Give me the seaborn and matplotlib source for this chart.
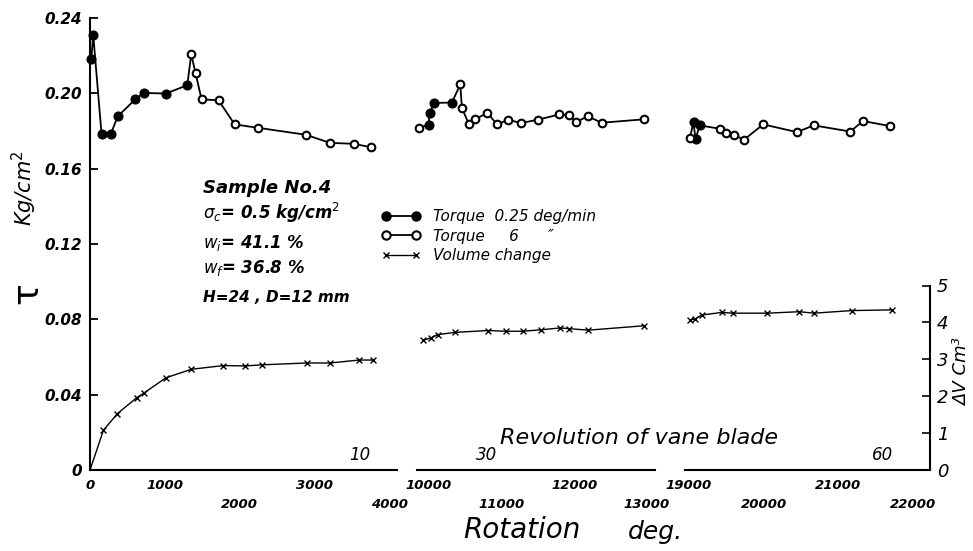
import numpy as np
import pandas as pd
import matplotlib
matplotlib.use("Agg")
import matplotlib.pyplot as plt
import seaborn as sns
from matplotlib.lines import Line2D

# ---------------- data ----------------
# Torque, panel 1 (rotation in deg, tau in kg/cm2), filled = 0.25 deg/min
p1_deg = [17, 43, 154, 278, 371, 604, 720, 1013, 1299,
          1352, 1410, 1490, 1717, 1932, 2243, 2885, 3202, 3523, 3748]
p1_tau = [0.218, 0.231, 0.1785, 0.1785, 0.1878, 0.1968, 0.2002, 0.1999, 0.2043,
          0.2207, 0.2106, 0.1968, 0.1963, 0.1835, 0.1817, 0.178, 0.1737, 0.1732, 0.1714]
p1_filled = [1, 1, 1, 1, 1, 1, 1, 1, 1, 0, 0, 0, 0, 0, 0, 0, 0, 0, 0]

p2_deg = [9871, 9999, 10013, 10077, 10320, 10434, 10457, 10548, 10640, 10808,
          10937, 11096, 11266, 11500, 11796, 11933, 12025, 12185, 12377, 12962]
p2_tau = [0.1817, 0.1833, 0.1897, 0.1949, 0.1951, 0.2047, 0.1924, 0.1839, 0.1862, 0.1897,
          0.1835, 0.186, 0.1842, 0.186, 0.1888, 0.1883, 0.1847, 0.1878, 0.1844, 0.1862]
p2_filled = [0, 1, 1, 1, 1, 0, 0, 0, 0, 0, 0, 0, 0, 0, 0, 0, 0, 0, 0, 0]

p3_deg = [19011, 19060, 19087, 19141, 19413, 19502, 19600, 19734,
          19994, 20449, 20671, 21162, 21332, 21698]
p3_tau = [0.1764, 0.1846, 0.1755, 0.183, 0.1812, 0.1788, 0.1781, 0.1753,
          0.1835, 0.1794, 0.183, 0.1797, 0.1853, 0.1826]
p3_filled = [0, 1, 1, 1, 0, 0, 0, 0, 0, 0, 0, 0, 0, 0]

# Volume change (cm3)
dv1_deg = [0, 180, 367, 625, 724, 1015, 1355, 1782, 2072, 2294, 2895, 3207, 3594, 3776]
dv1_val = [0, 1.08, 1.53, 1.96, 2.09, 2.50, 2.73, 2.83, 2.82, 2.85, 2.90, 2.90, 2.98, 2.98]
dv2_deg = [9919, 10033, 10125, 10368, 10815, 11062, 11291, 11548, 11808, 11932, 12196, 12965]
dv2_val = [3.51, 3.58, 3.67, 3.73, 3.78, 3.76, 3.76, 3.80, 3.85, 3.83, 3.79, 3.91]
dv3_deg = [19014, 19081, 19170, 19438, 19593, 20048, 20477, 20674, 21178, 21727]
dv3_val = [4.07, 4.09, 4.20, 4.27, 4.25, 4.25, 4.29, 4.25, 4.32, 4.34]

tau_ticks = [0, 0.04, 0.08, 0.12, 0.16, 0.20, 0.24]
tau_labels = ["0", "0.04", "0.08", "0.12", "0.16", "0.20", "0.24"]
dv_ticks = [0, 1, 2, 3, 4, 5]
dv_labels = ["0", "1", "2", "3", "4", "5"]

deg_labels_1 = [(0, 0), (1000, 0), (2000, 1), (3000, 0), (4000, 1)]
deg_labels_2 = [(10000, 0), (11000, 1), (12000, 0), (13000, 1)]
deg_labels_3 = [(19000, 0), (20000, 1), (21000, 0), (22000, 1)]
rev_labels = [(3600, "10", 0), (10800, "30", 1), (21600, "60", 2)]

legend_labels = ["Torque  0.25 deg/min", "Torque     6      \u2033", "Volume change"]

# ---------------- style ----------------
sns.set_style("white")
plt.rcParams['font.family'] = ['DejaVu Sans']
plt.rcParams['mathtext.fontset'] = 'dejavusans'
for key in ["text.color", "axes.labelcolor", "xtick.color", "ytick.color", "axes.edgecolor"]:
    plt.rcParams[key] = "black"

W, H = 973, 551
fig = plt.figure(figsize=(W / 100, H / 100), dpi=100)

Y_TOP, Y_BOT = 18, 470
def rect(x0, x1):
    return [x0 / W, 1 - Y_BOT / H, (x1 - x0) / W, (Y_BOT - Y_TOP) / H]

TAU_MAX = 0.24
DV_MAX = (Y_BOT - Y_TOP) / 36.9

panels = [
    dict(x0=90, x1=397, xlim=(0, 4100), revs=range(0, 12),
         tdeg=p1_deg, ttau=p1_tau, tf=p1_filled, vdeg=dv1_deg, vval=dv1_val, vskip=1,
         labels=deg_labels_1),
    dict(x0=417, x1=655, xlim=(9840, 13110), revs=range(28, 37),
         tdeg=p2_deg, ttau=p2_tau, tf=p2_filled, vdeg=dv2_deg, vval=dv2_val, vskip=0,
         labels=deg_labels_2),
    dict(x0=685, x1=930, xlim=(18946, 22230), revs=range(53, 62),
         tdeg=p3_deg, ttau=p3_tau, tf=p3_filled, vdeg=dv3_deg, vval=dv3_val, vskip=0,
         labels=deg_labels_3),
]

axes = []
for i, p in enumerate(panels):
    ax = fig.add_axes(rect(p["x0"], p["x1"]))
    ax.set_facecolor("none")
    ax.set_xlim(*p["xlim"])
    ax.set_ylim(0, TAU_MAX)
    for s in ["top", "right"]:
        ax.spines[s].set_visible(False)
    ax.spines["bottom"].set_linewidth(1.5)
    ax.spines["bottom"].set_color("black")
    if i == 0:
        ax.spines["left"].set_linewidth(1.5)
        ax.spines["left"].set_color("black")
        ax.set_yticks(tau_ticks)
        ax.set_yticklabels(tau_labels, fontsize=11, fontweight="bold", fontstyle="italic")
        ax.tick_params(axis="y", direction="in", length=6, width=1.3, pad=6)
    else:
        ax.spines["left"].set_visible(False)
        ax.set_yticks([])
    ax.set_xticks([r * 360 for r in p["revs"]])
    ax.set_xticklabels([])
    ax.tick_params(axis="x", direction="in", length=6, width=1.1)

    # torque line + markers
    df = pd.DataFrame({"deg": p["tdeg"], "tau": p["ttau"], "filled": p["tf"]})
    sns.lineplot(data=df, x="deg", y="tau", ax=ax, color="black", linewidth=1.3,
                 estimator=None, sort=True, legend=False, clip_on=False)
    sns.scatterplot(data=df[df.filled == 1], x="deg", y="tau", ax=ax, color="black",
                    s=42, edgecolor="black", linewidth=0.8, zorder=4, legend=False,
                    clip_on=False)
    sns.scatterplot(data=df[df.filled == 0], x="deg", y="tau", ax=ax, color="white",
                    s=30, edgecolor="black", linewidth=1.5, zorder=4, legend=False,
                    clip_on=False)
    ax.set_xlabel("")
    ax.set_ylabel("")

    # volume change on twin axis
    tw = ax.twinx()
    tw.set_ylim(0, DV_MAX)
    tw.set_xlim(*p["xlim"])
    for s in ["top", "left", "bottom", "right"]:
        tw.spines[s].set_visible(False)
    dv = pd.DataFrame({"deg": p["vdeg"], "dv": p["vval"]})
    sns.lineplot(data=dv, x="deg", y="dv", ax=tw, color="black", linewidth=1.0,
                 estimator=None, sort=True, legend=False, clip_on=False)
    sns.scatterplot(data=dv.iloc[p["vskip"]:], x="deg", y="dv", ax=tw, marker="x",
                    color="black", s=18, linewidth=1.0, legend=False, clip_on=False)
    tw.set_xlabel("")
    tw.set_ylabel("")
    if i == 2:
        tw.spines["right"].set_visible(True)
        tw.spines["right"].set_bounds(0, 5)
        tw.spines["right"].set_linewidth(1.5)
        tw.spines["right"].set_color("black")
        tw.set_yticks(dv_ticks)
        tw.set_yticklabels(dv_labels, fontsize=13, fontstyle="italic")
        tw.tick_params(axis="y", direction="in", length=6, width=1.2, pad=5)
    else:
        tw.set_yticks([])

    # degree labels in two rows
    for d, row in p["labels"]:
        ax.text(d, -0.034 - 0.042 * row, f"{d}", transform=ax.get_xaxis_transform(),
                ha="center", va="center", fontsize=9.5, fontweight="bold",
                fontstyle="italic")
    axes.append(ax)

# revolution labels
for d, txt, k in rev_labels:
    axx = axes[k]
    axx.text(d, 0.034, txt, transform=axx.get_xaxis_transform(), ha="center",
             va="center", fontsize=12, fontstyle="italic")

# axis titles
fig.text(27 / W, 1 - 293 / H, "\u03c4", rotation=90, fontsize=26, ha="center", va="center")
fig.text(24 / W, 1 - 188 / H, "Kg/cm$^2$", rotation=90, fontsize=15, fontstyle="italic",
         ha="center", va="center")
fig.text(962 / W, 1 - 372 / H, "\u0394V Cm\u00b3", rotation=90, fontsize=13,
         fontstyle="italic", ha="center", va="center")
fig.text(500 / W, 1 - 438 / H, "Revolution of vane blade", fontsize=16,
         fontstyle="italic", ha="left", va="center")
fig.text(463 / W, 1 - 530 / H, "Rotation", fontsize=20, fontstyle="italic",
         ha="left", va="center")
fig.text(628 / W, 1 - 532 / H, "deg.", fontsize=18, fontstyle="italic",
         ha="left", va="center")

# sample annotation block
info = [("Sample No.4", 188, 13),
        (r"$\sigma_c$= 0.5 kg/cm$^2$", 213, 12),
        (r"$w_i$= 41.1 %", 243, 12),
        (r"$w_f$= 36.8 %", 268, 12),
        ("H=24 , D=12 mm", 297, 11)]
for txt, y, fs in info:
    fig.text(203 / W, 1 - y / H, txt, fontsize=fs, fontstyle="italic", fontweight="bold",
             ha="left", va="center")

# legend
handles = [
    Line2D([0], [0], color="black", lw=1.3, marker="o", markersize=6.5,
           markerfacecolor="black", markeredgecolor="black"),
    Line2D([0], [0], color="black", lw=1.3, marker="o", markersize=6,
           markerfacecolor="white", markeredgecolor="black", markeredgewidth=1.5),
    Line2D([0], [0], color="black", lw=1.0, marker="x", markersize=5,
           markeredgewidth=1.0),
]
fig.legend(handles, legend_labels, loc="upper left",
           bbox_to_anchor=(381 / W, 1 - 209 / H), frameon=False, numpoints=2,
           handlelength=2.6, handletextpad=0.8, labelspacing=0.3, borderpad=0,
           borderaxespad=0, prop={"style": "italic", "size": 11})

fig.savefig("out.png", dpi=100)
